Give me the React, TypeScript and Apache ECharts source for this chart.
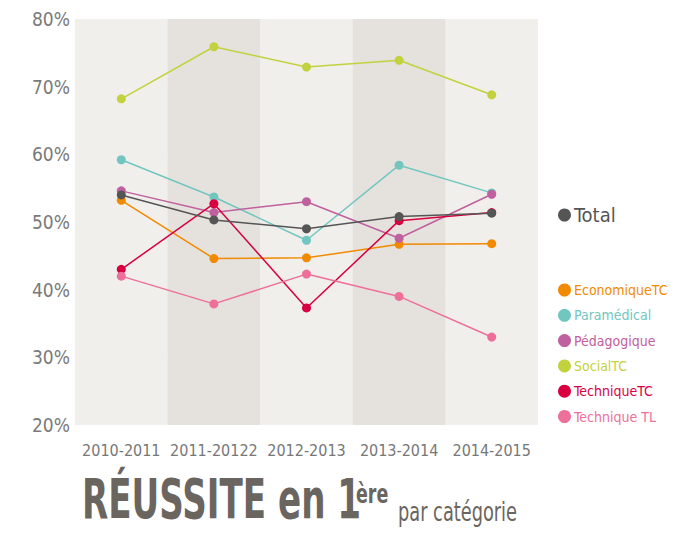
import React, { useEffect, useRef } from "react";
import * as echarts from "echarts";

const categories = ["2010-2011", "2011-20122", "2012-2013", "2013-2014", "2014-2015"];
const totalValues = [54.0, 50.3, 49.0, 50.8, 51.3];
const economiqueTC = [53.2, 44.6, 44.7, 46.7, 46.8];
const paramedical = [59.2, 53.7, 47.3, 58.4, 54.3];
const pedagogique = [54.6, 51.4, 53.0, 47.6, 54.1];
const socialTC = [68.2, 75.9, 72.9, 73.9, 68.8];
const techniqueTC = [43.0, 52.7, 37.3, 50.2, 51.4];
const techniqueTL = [42.0, 37.9, 42.3, 39.0, 33.0];
const yTicks = [20, 30, 40, 50, 60, 70, 80];

const FONT = "'DejaVu Sans Condensed', 'DejaVu Sans', sans-serif";
const TITLE_COLOR = "#6b6560";

const seriesDefs = [
  { name: "Total", data: totalValues, color: "#555555" },
  { name: "EconomiqueTC", data: economiqueTC, color: "#f28a00" },
  { name: "Paramédical", data: paramedical, color: "#72c6c0" },
  { name: "Pédagogique", data: pedagogique, color: "#c0609e" },
  { name: "SocialTC", data: socialTC, color: "#c2d23e" },
  { name: "TechniqueTC", data: techniqueTC, color: "#d8003f" },
  { name: "Technique TL", data: techniqueTL, color: "#ee6f9a" },
];

export default function App() {
  const ref = useRef<HTMLDivElement>(null);
  useEffect(() => {
    if (!ref.current) return;
    const chart = echarts.init(ref.current, null, { renderer: "svg" });
    chart.setOption({
      animation: false,
      backgroundColor: "#ffffff",
      grid: {
        left: 75,
        right: 152,
        top: 19,
        bottom: 111,
        show: true,
        backgroundColor: "#f0efec",
        borderWidth: 0,
        containLabel: false,
        outerBoundsMode: "none",
      },
      xAxis: {
        type: "category",
        data: categories,
        boundaryGap: true,
        axisLine: { show: false },
        axisTick: { show: false },
        axisLabel: {
          interval: 0,
          fontFamily: FONT,
          fontSize: 16,
          color: "#777777",
          margin: 17,
        },
        splitArea: { show: true, areaStyle: { color: ["#f0efec", "#e5e2de"] } },
        splitLine: { show: false },
      },
      yAxis: {
        type: "value",
        min: yTicks[0],
        max: yTicks[yTicks.length - 1],
        interval: 10,
        axisLine: { show: false },
        axisTick: { show: false },
        axisLabel: {
          fontFamily: FONT,
          fontSize: 19,
          color: "#7a7a7a",
          margin: 5,
          formatter: (v: number) => `${v}%`,
        },
        splitLine: { show: true, lineStyle: { color: "#ffffff", width: 2 } },
      },
      legend: [
        {
          data: [{ name: "Total", textStyle: { color: "#555555" } }],
          left: 553,
          top: 200,
          icon: "circle",
          itemWidth: 13,
          itemHeight: 13,
          itemGap: 8,
          textStyle: { fontFamily: FONT, fontSize: 20, color: "#555555", padding: [0, 0, 0, -2] },
        },
        {
          data: seriesDefs.slice(1).map((s) => ({ name: s.name, textStyle: { color: s.color } })),
          orient: "vertical",
          left: 553,
          top: 278,
          icon: "circle",
          itemWidth: 13,
          itemHeight: 13,
          itemGap: 11.3,
          textStyle: { fontFamily: FONT, fontSize: 14, padding: [0, 0, 0, -2] },
        },
      ],
      series: seriesDefs.map((s) => ({
        name: s.name,
        type: "line",
        data: s.data,
        symbol: "circle",
        symbolSize: 9,
        itemStyle: { color: s.color },
        lineStyle: { color: s.color, width: 1.5 },
        z: s.name === "Total" ? 3 : 2,
      })),
      graphic: [
        {
          type: "text",
          x: 82,
          y: 526,
          scaleX: 0.69,
          style: {
            text: "RÉUSSITE en 1",
            fontFamily: FONT,
            fontSize: 55,
            fontWeight: "bold",
            fill: TITLE_COLOR,
            verticalAlign: "bottom",
          },
        },
        {
          type: "text",
          x: 356,
          y: 507,
          scaleX: 0.72,
          style: {
            text: "ère",
            fontFamily: FONT,
            fontSize: 27,
            fontWeight: "bold",
            fill: TITLE_COLOR,
            verticalAlign: "bottom",
          },
        },
        {
          type: "text",
          x: 398,
          y: 525,
          scaleX: 0.76,
          style: {
            text: "par catégorie",
            fontFamily: FONT,
            fontSize: 26,
            fill: TITLE_COLOR,
            verticalAlign: "bottom",
          },
        },
      ],
    });
    return () => chart.dispose();
  }, []);
  return (
    <div
      ref={ref}
      style={{ position: "absolute", left: 0, top: 0, width: 690, height: 536 }}
    />
  );
}
